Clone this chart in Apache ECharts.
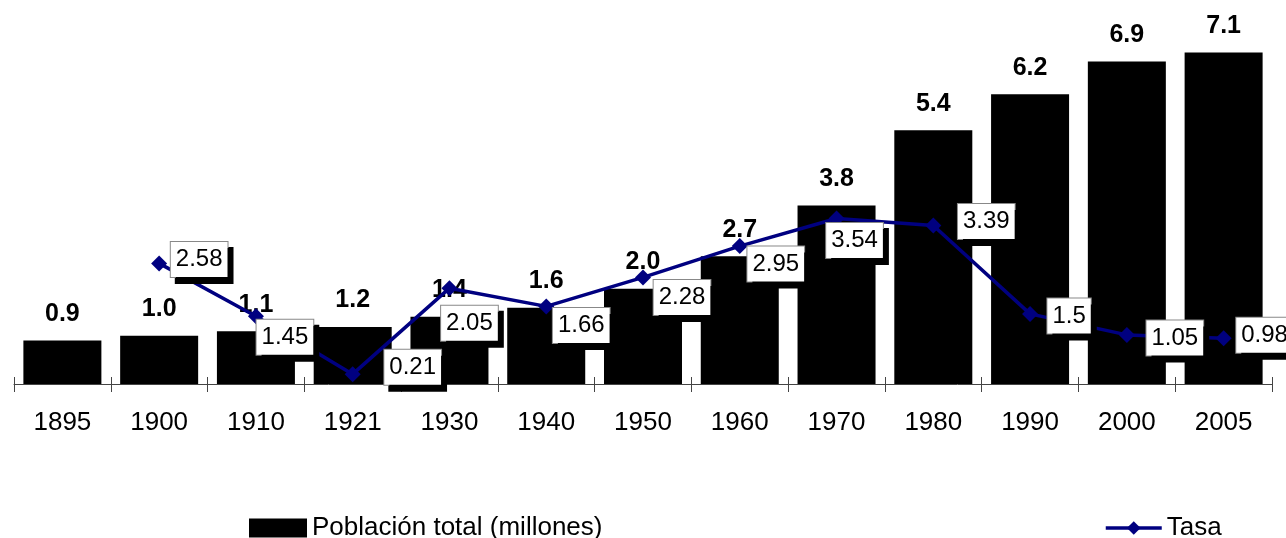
<!DOCTYPE html>
<html>
<head>
<meta charset="utf-8">
<script src="https://cdn.jsdelivr.net/npm/echarts@6/dist/echarts.min.js"></script>
<style>
    html, body { margin: 0; padding: 0; background: #fff; }
    #chart { width: 1286px; height: 538px; }
</style>
</head>
<body>
<div id="chart"></div>
<script>
// datos
const anios = ["1895", "1900", "1910", "1921", "1930", "1940", "1950", "1960", "1970", "1980", "1990", "2000", "2005"];
const poblacion = [0.93, 1.03, 1.13, 1.22, 1.44, 1.63, 2.04, 2.73, 3.82, 5.43, 6.2, 6.9, 7.09];
const tasa = ["-", 2.58, 1.45, 0.21, 2.05, 1.66, 2.28, 2.95, 3.54, 3.39, 1.5, 1.05, 0.98];

// desplazamiento de las etiquetas de la tasa (como quedaron en el original)
const tasaLabelOffset = [
    [0, 0], [40, -4], [29, 21], [60, -7], [20, 35], [35, 19], [39, 20],
    [36, 18], [18, 22], [53, -4], [39, 2], [48, 3], [41, -3]
];

const FONT = "Liberation Sans, Arial, sans-serif";
const AZUL = "#000080";

let chart = echarts.init(document.getElementById("chart"));

let option = {
    animation: false,
    backgroundColor: "#fff",
    grid: {
        left: 14,
        right: 14,
        top: 10,
        bottom: 154,
        containLabel: false,
    },
    legend: [
        {
            data: ["Población total (millones)"],
            icon: "rect",
            left: 244,
            top: 510,
            itemWidth: 58,
            itemHeight: 19,
            itemGap: 8,
            textStyle: { fontFamily: FONT, fontSize: 26, color: "#000" },
        },
        {
            data: ["Tasa"],
            left: 1099,
            top: 510,
            itemWidth: 56,
            itemHeight: 17,
            lineStyle: { width: 3.5 },
            textStyle: { fontFamily: FONT, fontSize: 26, color: "#000" },
        },
    ],
    xAxis: [
        {
            type: "category",
            data: anios,
            axisLine: { lineStyle: { color: "#444", width: 1 } },
            axisTick: { show: true, length: 8, lineStyle: { color: "#444" } },
            axisLabel: {
                fontFamily: FONT,
                fontSize: 26,
                color: "#000",
                margin: 26,
            },
        },
        {
            // marcas hacia adentro (las del original cruzan el eje)
            type: "category",
            data: anios,
            position: "bottom",
            axisLine: { show: false },
            axisTick: { show: true, inside: true, length: 7, lineStyle: { color: "#444" } },
            axisLabel: { show: false },
        },
    ],
    yAxis: {
        type: "value",
        min: 0,
        max: 8,
        show: false,
        splitLine: { show: false },
    },
    series: [
        {
            name: "Población total (millones)",
            type: "bar",
            data: poblacion,
            barWidth: 78,
            itemStyle: { color: "#000" },
            label: {
                show: true,
                position: "top",
                distance: 14,
                fontFamily: FONT,
                fontSize: 25,
                fontWeight: "bold",
                color: "#000",
                formatter: (p) => p.value.toFixed(1),
            },
        },
        {
            name: "Tasa",
            type: "line",
            data: tasa.map((v, i) => ({
                value: v,
                label: { offset: tasaLabelOffset[i] },
            })),
            symbol: "diamond",
            symbolSize: 16,
            lineStyle: { color: AZUL, width: 3.5 },
            itemStyle: { color: AZUL },
            z: 5,
            label: {
                show: true,
                position: "inside",
                fontFamily: FONT,
                fontSize: 24,
                color: "#000",
                backgroundColor: "#fff",
                borderColor: "#888",
                borderWidth: 1,
                padding: [6, 5, 5, 5],
                shadowColor: "#000",
                shadowBlur: 0,
                shadowOffsetX: 5,
                shadowOffsetY: 6,
                formatter: (p) => String(p.value),
            },
        },
    ],
};

chart.setOption(option);
</script>
</body>
</html>
